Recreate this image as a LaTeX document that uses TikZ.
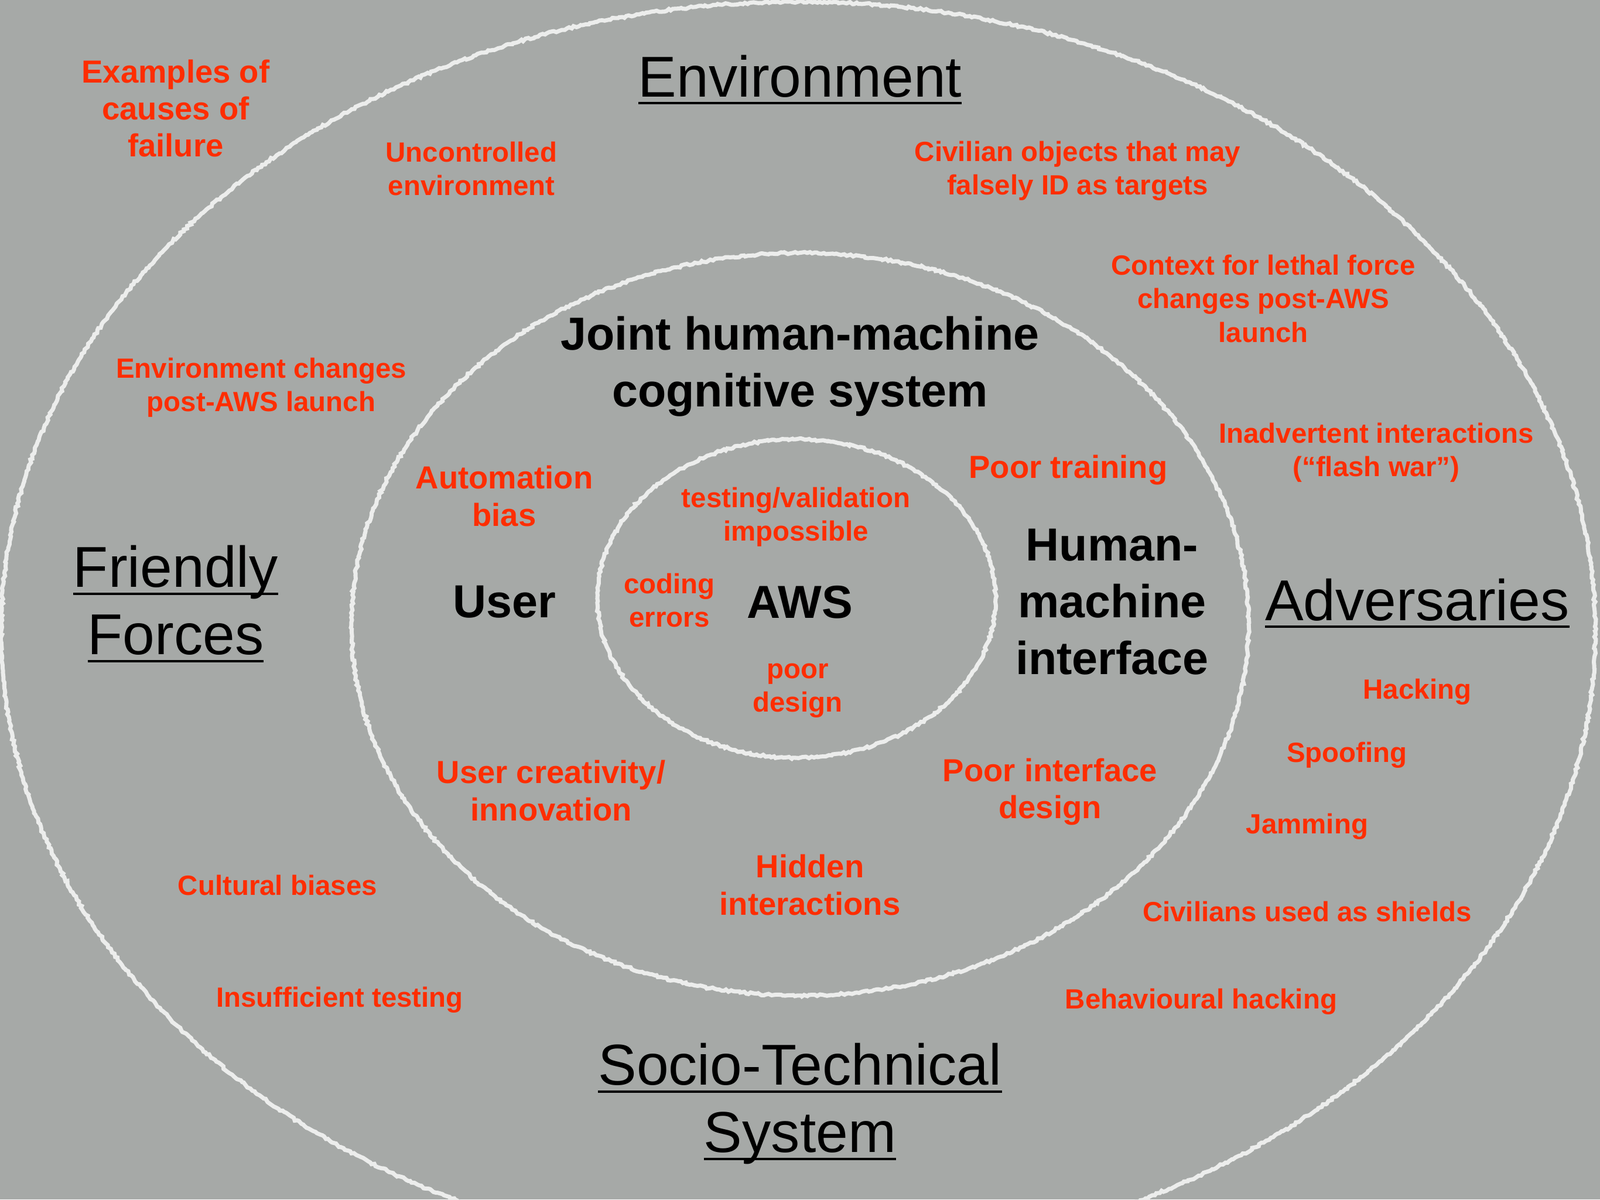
\documentclass[tikz,border=0pt]{standalone}
\usepackage{fontspec}
\setmainfont{Liberation Sans}
\usepackage{tikz}
\usetikzlibrary{decorations.pathmorphing}
\definecolor{slidegray}{HTML}{A6A9A7}
\definecolor{chalkwhite}{HTML}{ECEDEC}
\definecolor{causered}{HTML}{FF2D00}
\newcommand{\undl}[1]{\setbox0\hbox{#1}\rlap{\vrule width\wd0 height -0.09em depth 0.13em}\box0}

\begin{document}
\begin{tikzpicture}[
    ring/.style={chalkwhite, line width=2pt, decorate,
        decoration={random steps, segment length=1.2pt, amplitude=0.5pt}},
    realm/.style={font=\fontsize{28pt}{32.7pt}\selectfont, align=center, text=black},
    layer/.style={font=\fontsize{22.5pt}{27.6pt}\selectfont\bfseries, align=center, text=black},
    bigcause/.style={font=\fontsize{15.5pt}{18pt}\selectfont\bfseries, align=center, text=causered},
    cause/.style={font=\fontsize{13.5pt}{16.3pt}\selectfont\bfseries, align=center, text=causered}]
    % Background
    \fill[slidegray] (0,0) rectangle (27.32,20.48);
    \useasboundingbox (0,0) rectangle (27.32,20.48);
    \clip (0,0) rectangle (27.32,20.48);

    % Rings
    \draw[ring] (13.63,9.70) ellipse [x radius=13.61, y radius=10.75];
    \draw[ring] (13.66,9.82) ellipse [x radius=7.66, y radius=6.34];
    \draw[ring] (13.60,10.26) ellipse [x radius=3.40, y radius=2.72];

    % Outer realms
    \node[realm] (env) at (13.66,19.12) {\undl{Environment}};
    \node[realm] (friendly) at (3.00,10.17) {\undl{Friendly}\\\undl{Forces}};
    \node[realm] (adv) at (24.20,10.18) {\undl{Adversaries}};
    \node[realm] (sociotech) at (13.66,1.63) {\undl{Socio-Technical}\\\undl{System}};

    % Inner layers
    \node[layer] (joint) at (13.66,14.22) {Joint human-machine\\cognitive system};
    \node[layer] (user) at (8.61,10.20) {User};
    \node[layer] (aws) at (13.66,10.20) {AWS};
    \node[layer] (hmi) at (18.99,10.20) {Human-\\machine\\interface};

    % Causes of failure, larger
    \node[bigcause] (examples) at (3.00,18.63) {Examples of\\causes of\\failure};
    \node[bigcause] (autobias) at (8.61,12.01) {Automation\\bias};
    \node[bigcause] (training) at (18.24,12.45) {Poor training};
    \node[bigcause] (creativity) at (9.41,6.98) {User creativity/\\innovation};
    \node[bigcause] (ifdesign) at (17.93,6.96) {Poor interface\\design};
    \node[bigcause] (hidden) at (13.83,5.37) {Hidden\\interactions};

    % Causes of failure, smaller
    \node[cause] (uncontrolled) at (8.05,17.60) {Uncontrolled\\environment};
    \node[cause] (civobjects) at (18.40,17.56) {Civilian objects that may\\falsely ID as targets};
    \node[cause] (context) at (21.57,15.38) {Context for lethal force\\changes post-AWS\\launch};
    \node[cause] (envchange) at (4.46,13.86) {Environment changes\\post-AWS launch};
    \node[cause] (inadvertent) at (23.50,12.75) {Inadvertent interactions\\(“flash war”)};
    \node[cause] (testing) at (13.59,11.65) {testing/validation\\impossible};
    \node[cause] (coding) at (11.43,10.23) {coding\\errors};
    \node[cause] (poordesign) at (13.62,8.69) {poor\\design};
    \node[cause] (hacking) at (24.20,8.67) {Hacking};
    \node[cause] (spoofing) at (23.00,7.59) {Spoofing};
    \node[cause] (jamming) at (22.32,6.37) {Jamming};
    \node[cause] (cultural) at (4.74,5.36) {Cultural biases};
    \node[cause] (shields) at (22.32,4.91) {Civilians used as shields};
    \node[cause] (insufficient) at (5.80,3.41) {Insufficient testing};
    \node[cause] (behavioural) at (20.51,3.38) {Behavioural hacking};
\end{tikzpicture}
\end{document}
